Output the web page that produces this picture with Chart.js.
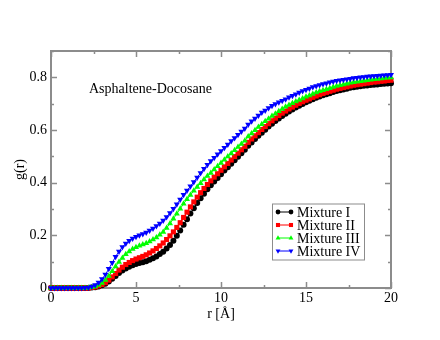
<!DOCTYPE html>
<html>
<head>
<meta charset="utf-8">
<script src="https://cdn.jsdelivr.net/npm/chart.js@4"></script>
<style>
  body { margin: 0; background: #fff; }
</style>
</head>
<body>
<canvas id="myChart" width="440" height="340"></canvas>
<script>
// data
const r = [
  0, 0.2, 0.4, 0.6, 0.8, 1, 1.2, 1.4, 1.6, 1.8,
  2, 2.2, 2.4, 2.6, 2.8, 3, 3.2, 3.4, 3.6, 3.8,
  4, 4.2, 4.4, 4.6, 4.8, 5, 5.2, 5.4, 5.6, 5.8,
  6, 6.2, 6.4, 6.6, 6.8, 7, 7.2, 7.4, 7.6, 7.8,
  8, 8.2, 8.4, 8.6, 8.8, 9, 9.2, 9.4, 9.6, 9.8,
  10, 10.2, 10.4, 10.6, 10.8, 11, 11.2, 11.4, 11.6, 11.8,
  12, 12.2, 12.4, 12.6, 12.8, 13, 13.2, 13.4, 13.6, 13.8,
  14, 14.2, 14.4, 14.6, 14.8, 15, 15.2, 15.4, 15.6, 15.8,
  16, 16.2, 16.4, 16.6, 16.8, 17, 17.2, 17.4, 17.6, 17.8,
  18, 18.2, 18.4, 18.6, 18.8, 19, 19.2, 19.4, 19.6, 19.8,
  20
];

const mixtureI = [
  0, 0, 0, 0, 0, 0, 0, 0, 0, 0,
  0, 0, 0.002, 0.003, 0.006, 0.010, 0.016, 0.025, 0.035, 0.046,
  0.057, 0.066, 0.074, 0.081, 0.086, 0.091, 0.095, 0.098, 0.102, 0.107,
  0.113, 0.120, 0.129, 0.138, 0.150, 0.163, 0.179, 0.198, 0.218, 0.240,
  0.261, 0.283, 0.303, 0.323, 0.341, 0.358, 0.375, 0.390, 0.404, 0.418,
  0.432, 0.446, 0.459, 0.472, 0.485, 0.498, 0.512, 0.525, 0.540, 0.553,
  0.566, 0.578, 0.590, 0.601, 0.613, 0.624, 0.634, 0.644, 0.653, 0.662,
  0.670, 0.678, 0.685, 0.692, 0.699, 0.705, 0.711, 0.717, 0.722, 0.727,
  0.732, 0.736, 0.740, 0.744, 0.748, 0.751, 0.754, 0.757, 0.760, 0.762,
  0.764, 0.766, 0.768, 0.769, 0.771, 0.772, 0.773, 0.775, 0.776, 0.777,
  0.778
];

const mixtureII = [
  0, 0, 0, 0, 0, 0, 0, 0, 0, 0,
  0, 0, 0.002, 0.004, 0.008, 0.013, 0.020, 0.030, 0.042, 0.055,
  0.068, 0.079, 0.089, 0.097, 0.104, 0.110, 0.115, 0.120, 0.126, 0.133,
  0.141, 0.150, 0.160, 0.171, 0.184, 0.198, 0.213, 0.230, 0.248, 0.268,
  0.288, 0.308, 0.327, 0.345, 0.362, 0.378, 0.393, 0.407, 0.421, 0.434,
  0.447, 0.460, 0.473, 0.486, 0.499, 0.512, 0.525, 0.538, 0.553, 0.566,
  0.578, 0.590, 0.602, 0.613, 0.624, 0.635, 0.645, 0.655, 0.664, 0.672,
  0.680, 0.687, 0.694, 0.701, 0.707, 0.713, 0.718, 0.724, 0.729, 0.734,
  0.739, 0.743, 0.747, 0.751, 0.755, 0.758, 0.761, 0.764, 0.767, 0.770,
  0.772, 0.774, 0.776, 0.778, 0.780, 0.782, 0.783, 0.785, 0.786, 0.788,
  0.789
];

const mixtureIII = [
  0, 0, 0, 0, 0, 0, 0, 0, 0, 0,
  0, 0.001, 0.003, 0.006, 0.011, 0.019, 0.030, 0.046, 0.064, 0.082,
  0.099, 0.114, 0.128, 0.139, 0.148, 0.155, 0.160, 0.165, 0.170, 0.177,
  0.184, 0.192, 0.202, 0.213, 0.228, 0.245, 0.263, 0.282, 0.301, 0.320,
  0.337, 0.353, 0.369, 0.384, 0.398, 0.412, 0.425, 0.437, 0.450, 0.462,
  0.475, 0.487, 0.499, 0.511, 0.523, 0.535, 0.547, 0.559, 0.575, 0.587,
  0.599, 0.611, 0.622, 0.633, 0.643, 0.653, 0.662, 0.671, 0.680, 0.688,
  0.695, 0.702, 0.708, 0.714, 0.720, 0.726, 0.731, 0.737, 0.742, 0.747,
  0.751, 0.755, 0.759, 0.763, 0.767, 0.770, 0.773, 0.776, 0.779, 0.781,
  0.783, 0.785, 0.787, 0.789, 0.791, 0.793, 0.794, 0.796, 0.797, 0.798,
  0.799
];

const mixtureIV = [
  0, 0, 0, 0, 0, 0, 0, 0, 0, 0,
  0.001, 0.002, 0.006, 0.011, 0.021, 0.034, 0.051, 0.073, 0.096, 0.119,
  0.139, 0.156, 0.169, 0.179, 0.188, 0.195, 0.200, 0.205, 0.211, 0.218,
  0.226, 0.235, 0.245, 0.256, 0.270, 0.285, 0.301, 0.318, 0.336, 0.354,
  0.370, 0.386, 0.403, 0.420, 0.437, 0.453, 0.468, 0.482, 0.495, 0.508,
  0.520, 0.533, 0.545, 0.558, 0.570, 0.582, 0.594, 0.606, 0.621, 0.633,
  0.644, 0.655, 0.666, 0.674, 0.684, 0.692, 0.699, 0.705, 0.711, 0.717,
  0.724, 0.730, 0.736, 0.742, 0.748, 0.753, 0.758, 0.763, 0.767, 0.771,
  0.775, 0.778, 0.781, 0.784, 0.787, 0.789, 0.791, 0.793, 0.795, 0.797,
  0.798, 0.800, 0.801, 0.803, 0.804, 0.805, 0.806, 0.807, 0.808, 0.809,
  0.810
];

const seriesNames = ['Mixture I', 'Mixture II', 'Mixture III', 'Mixture IV'];
const xTicks = [0, 5, 10, 15, 20];
const xTickLabels = ['0', '5', '10', '15', '20'];
const yTicks = [0, 0.2, 0.4, 0.6, 0.8];
const yTickLabels = ['0', '0.2', '0.4', '0.6', '0.8'];

// styles
const FONT = "'Liberation Serif', 'Times New Roman', serif";
const AXIS = '#8c8c8c';
const styles = [
  { color: '#000000', pointStyle: 'circle', radius: 3, rotation: 0 },
  { color: '#ff0000', pointStyle: 'rect', radius: 3.6, rotation: 0 },
  { color: '#00ff00', pointStyle: 'triangle', radius: 3.5, rotation: 0 },
  { color: '#0000ff', pointStyle: 'triangle', radius: 3.5, rotation: 180 }
];

const allSeries = [mixtureI, mixtureII, mixtureIII, mixtureIV];

const datasets = allSeries.map(function (vals, i) {
  const s = styles[i];
  return {
    label: seriesNames[i],
    data: vals.map(function (v, k) { return { x: r[k], y: v }; }),
    borderColor: s.color,
    backgroundColor: s.color,
    borderWidth: 1,
    pointStyle: s.pointStyle,
    pointRadius: s.radius,
    pointRotation: s.rotation,
    pointBorderWidth: 0,
    pointBackgroundColor: s.color,
    tension: 0,
    clip: false,
    order: 3 - i
  };
});

// frame, inward ticks, inset title and legend
const gracePlugin = {
  id: 'grace',
  beforeDatasetsDraw(chart) {
    const ctx = chart.ctx;
    const a = chart.chartArea;
    const xs = chart.scales.x;
    const ys = chart.scales.y;
    ctx.save();
    ctx.strokeStyle = AXIS;
    ctx.lineWidth = 1.5;
    // ticks
    for (let v = 0; v <= 20.001; v += 2.5) {
      const px = Math.round(xs.getPixelForValue(v)) + 0.5;
      const len = (v % 5 === 0) ? 6 : 3;
      ctx.beginPath();
      ctx.moveTo(px, a.bottom); ctx.lineTo(px, a.bottom - len);
      ctx.moveTo(px, a.top); ctx.lineTo(px, a.top + len);
      ctx.stroke();
    }
    for (let k = 0; k <= 9; k++) {
      const v = k / 10;
      const py = Math.round(ys.getPixelForValue(v)) + 0.5;
      const len = (k % 2 === 0) ? 6 : 3;
      ctx.beginPath();
      ctx.moveTo(a.left, py); ctx.lineTo(a.left + len, py);
      ctx.moveTo(a.right, py); ctx.lineTo(a.right - len, py);
      ctx.stroke();
    }
    ctx.lineWidth = 2;
    ctx.strokeRect(a.left, a.top, a.right - a.left, a.bottom - a.top);
    ctx.restore();
  },
  afterDraw(chart) {
    const ctx = chart.ctx;
    ctx.save();
    ctx.fillStyle = '#000';
    ctx.font = '14px ' + FONT;
    ctx.textBaseline = 'alphabetic';
    ctx.fillText('Asphaltene-Docosane', 89, 93);

    // legend box
    const bx = 272, by = 203.5, bw = 92, bh = 56;
    ctx.fillStyle = '#fff';
    ctx.fillRect(bx, by, bw, bh);
    ctx.strokeStyle = AXIS;
    ctx.lineWidth = 1;
    ctx.strokeRect(bx + 0.5, by + 0.5, bw, bh);
    for (let i = 0; i < seriesNames.length; i++) {
      const s = styles[i];
      const yy = 212 + i * 13;
      ctx.strokeStyle = s.color;
      ctx.lineWidth = 1;
      ctx.beginPath();
      ctx.moveTo(278, yy); ctx.lineTo(291, yy);
      ctx.stroke();
      ctx.fillStyle = s.color;
      Chart.helpers.drawPoint(ctx, { pointStyle: s.pointStyle, radius: s.radius * 0.8, rotation: s.rotation, borderWidth: 0 }, 278, yy);
      Chart.helpers.drawPoint(ctx, { pointStyle: s.pointStyle, radius: s.radius * 0.8, rotation: s.rotation, borderWidth: 0 }, 291, yy);
      ctx.fillStyle = '#000';
      ctx.font = '14px ' + FONT;
      ctx.fillText(seriesNames[i], 297, yy + 4.5);
    }
    ctx.restore();
  }
};

// config
const config = {
  type: 'line',
  data: { datasets },
  options: {
    responsive: false,
    animation: false,
    events: [],
    layout: { padding: { top: 51, right: 49, left: 0, bottom: 0 } },
    plugins: { legend: { display: false }, tooltip: { enabled: false } },
    scales: {
      x: {
        type: 'linear',
        min: 0,
        max: 20,
        grid: { display: false, drawTicks: false },
        border: { display: false },
        afterFit: function (s) { s.height = 52; },
        afterBuildTicks: function (s) { s.ticks = xTicks.map(function (v) { return { value: v }; }); },
        ticks: {
          padding: 2,
          color: '#000',
          font: { family: FONT, size: 14 },
          maxRotation: 0,
          callback: function (v, i) { return xTickLabels[i]; }
        },
        title: {
          display: true,
          text: 'r [Å]',
          color: '#000',
          font: { family: FONT, size: 14 },
          padding: { top: 0, bottom: 17 }
        }
      },
      y: {
        type: 'linear',
        min: 0,
        max: 0.9,
        grid: { display: false, drawTicks: false },
        border: { display: false },
        afterFit: function (s) { s.width = 51; },
        afterBuildTicks: function (s) { s.ticks = yTicks.map(function (v) { return { value: v }; }); },
        ticks: {
          padding: 4,
          color: '#000',
          font: { family: FONT, size: 14 },
          callback: function (v, i) { return yTickLabels[i]; }
        },
        title: {
          display: true,
          text: 'g(r)',
          color: '#000',
          font: { family: FONT, size: 14 },
          padding: { top: 12, bottom: 0 }
        }
      }
    }
  },
  plugins: [gracePlugin]
};

// render init block
const myChart = new Chart(
  document.getElementById('myChart'),
  config
);
</script>
</body>
</html>
